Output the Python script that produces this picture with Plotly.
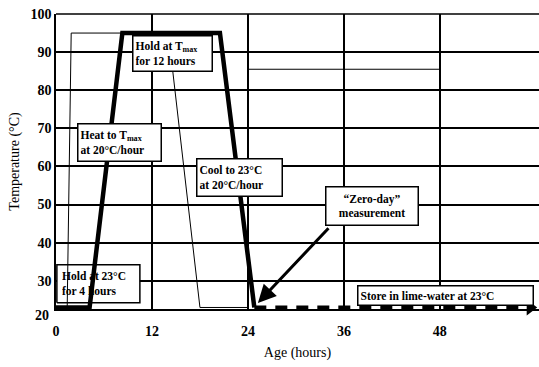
import plotly.graph_objects as go

# Curing schedule: hold, heat, hold at T_max, cool
profile_hours = [0, 4.2, 8.3, 20.5, 24.8]
profile_temp = [23, 23, 95, 95, 23]

# Lime-water storage after the zero-day measurement
storage_hours = [24.8, 58.6]
storage_temp = [23, 23]
storage_end_hours = [59.3]
storage_end_temp = [23]

# Light outline traces of the schedule
outline_a_hours = [1.4, 1.9, 8.3]
outline_a_temp = [23, 95, 95]
outline_b_hours = [14.6, 18.0, 24.0]
outline_b_temp = [85, 23, 23]
ref_hours = [24, 48]
ref_temp = [85.5, 85.5]

# Zero-day measurement point and the callout tail
zero_day_hours = [25.25, 34.25]
zero_day_temp = [24.2, 44.2]

x_ticks = [0, 12, 24, 36, 48]
y_ticks = [30, 40, 50, 60, 70, 80, 90, 100]
y_bottom_label = "20"

SERIF = "Liberation Serif"
BLACK = "#000000"

X_RANGE = [0, 60.4]
Y_RANGE = [22.6, 100]
WIDTH, HEIGHT = 539, 367
MARGIN = dict(l=56, r=0, t=14, b=58)
px_per_hour = (WIDTH - MARGIN["l"] - MARGIN["r"]) / (X_RANGE[1] - X_RANGE[0])
px_per_deg = (HEIGHT - MARGIN["t"] - MARGIN["b"]) / (Y_RANGE[1] - Y_RANGE[0])

fig = go.Figure()

# white panel behind the first hold label, drawn under the profile line
hold_cx, hold_cy, hold_w, hold_h = 5.3, 29.2, 83, 38
dx = hold_w / 2 / px_per_hour
dy = hold_h / 2 / px_per_deg
fig.add_trace(go.Scatter(
    x=[hold_cx - dx, hold_cx + dx, hold_cx + dx, hold_cx - dx, hold_cx - dx],
    y=[hold_cy - dy, hold_cy - dy, hold_cy + dy, hold_cy + dy, hold_cy - dy],
    mode="lines", fill="toself", fillcolor="white",
    line=dict(color=BLACK, width=1.5), hoverinfo="skip"))

fig.add_trace(go.Scatter(x=outline_a_hours, y=outline_a_temp, mode="lines",
                         line=dict(color=BLACK, width=1), hoverinfo="skip"))
fig.add_trace(go.Scatter(x=outline_b_hours, y=outline_b_temp, mode="lines",
                         line=dict(color=BLACK, width=1), hoverinfo="skip"))
fig.add_trace(go.Scatter(x=ref_hours, y=ref_temp, mode="lines",
                         line=dict(color=BLACK, width=1.2), hoverinfo="skip"))
fig.add_trace(go.Scatter(x=profile_hours, y=profile_temp, mode="lines",
                         line=dict(color=BLACK, width=4.5)))
fig.add_trace(go.Scatter(x=storage_hours, y=storage_temp, mode="lines",
                         line=dict(color=BLACK, width=4, dash="12px,9px")))
fig.add_trace(go.Scatter(x=storage_end_hours, y=storage_end_temp, mode="markers",
                         marker=dict(symbol="triangle-right", size=14, color=BLACK),
                         cliponaxis=False))

# top frame line
fig.add_shape(type="line", xref="paper", yref="paper", x0=0, x1=1, y0=1, y1=1,
              line=dict(color=BLACK, width=1.5))

font_box = dict(family=SERIF, size=11.5, color=BLACK, weight="bold")

annotations = [
    # zero-day arrow
    dict(x=zero_day_hours[0], y=zero_day_temp[0], ax=zero_day_hours[1], ay=zero_day_temp[1],
         xref="x", yref="y", axref="x", ayref="y", text="", showarrow=True,
         arrowhead=2, arrowsize=1.2, arrowwidth=3, arrowcolor=BLACK),
    dict(x=hold_cx, y=hold_cy, text="Hold at 23°C<br>for 4 hours", showarrow=False,
         font=font_box, align="left", width=73, height=33),
]

boxes = [
    ("Hold at T<sub>max</sub><br>for 12 hours", 14.56, 89.6, 74, 30, "left"),
    ("Heat to T<sub>max</sub><br>at 20°C/hour", 7.94, 66.2, 78, 32, "left"),
    ("Cool to 23°C<br>at 20°C/hour", 22.9, 57.0, 80, 32, "left"),
    ("“Zero-day”<br>measurement", 39.5, 49.7, 87, 33, "center"),
    ("Store in lime-water at 23°C", 48.7, 26.2, 170, 14, "left"),
]
for text, bx, by, w, h, al in boxes:
    annotations.append(dict(x=bx, y=by, text=text, showarrow=False, font=font_box,
                            align=al, width=w, height=h, bgcolor="white",
                            bordercolor=BLACK, borderwidth=1.5, borderpad=2))

annotations.append(dict(xref="paper", yref="paper", x=0, y=0, xanchor="right",
                        yanchor="middle", xshift=-5, yshift=-6, text=y_bottom_label,
                        showarrow=False,
                        font=dict(family=SERIF, size=14, color=BLACK, weight="bold")))

tick_font = dict(family=SERIF, size=14, color=BLACK, weight="bold")
title_font = dict(family=SERIF, size=14, color=BLACK)

fig.update_layout(
    width=WIDTH, height=HEIGHT,
    margin=MARGIN,
    paper_bgcolor="white", plot_bgcolor="white",
    showlegend=False,
    annotations=annotations,
    xaxis=dict(range=X_RANGE, tickvals=x_ticks, ticktext=[str(v) for v in x_ticks],
               showgrid=True, gridcolor=BLACK, gridwidth=1.5,
               showline=True, linecolor=BLACK, linewidth=1.5, zeroline=False,
               tickfont=tick_font, ticks="", ticklabelstandoff=8,
               title=dict(text="Age (hours)", font=title_font, standoff=10)),
    yaxis=dict(range=Y_RANGE, tickvals=y_ticks,
               showgrid=True, gridcolor=BLACK, gridwidth=1.5,
               showline=True, linecolor=BLACK, linewidth=1.5, zeroline=False,
               tickfont=tick_font, ticks="",
               title=dict(text="Temperature (°C)", font=title_font, standoff=8)),
)

fig.write_html("out.html")
